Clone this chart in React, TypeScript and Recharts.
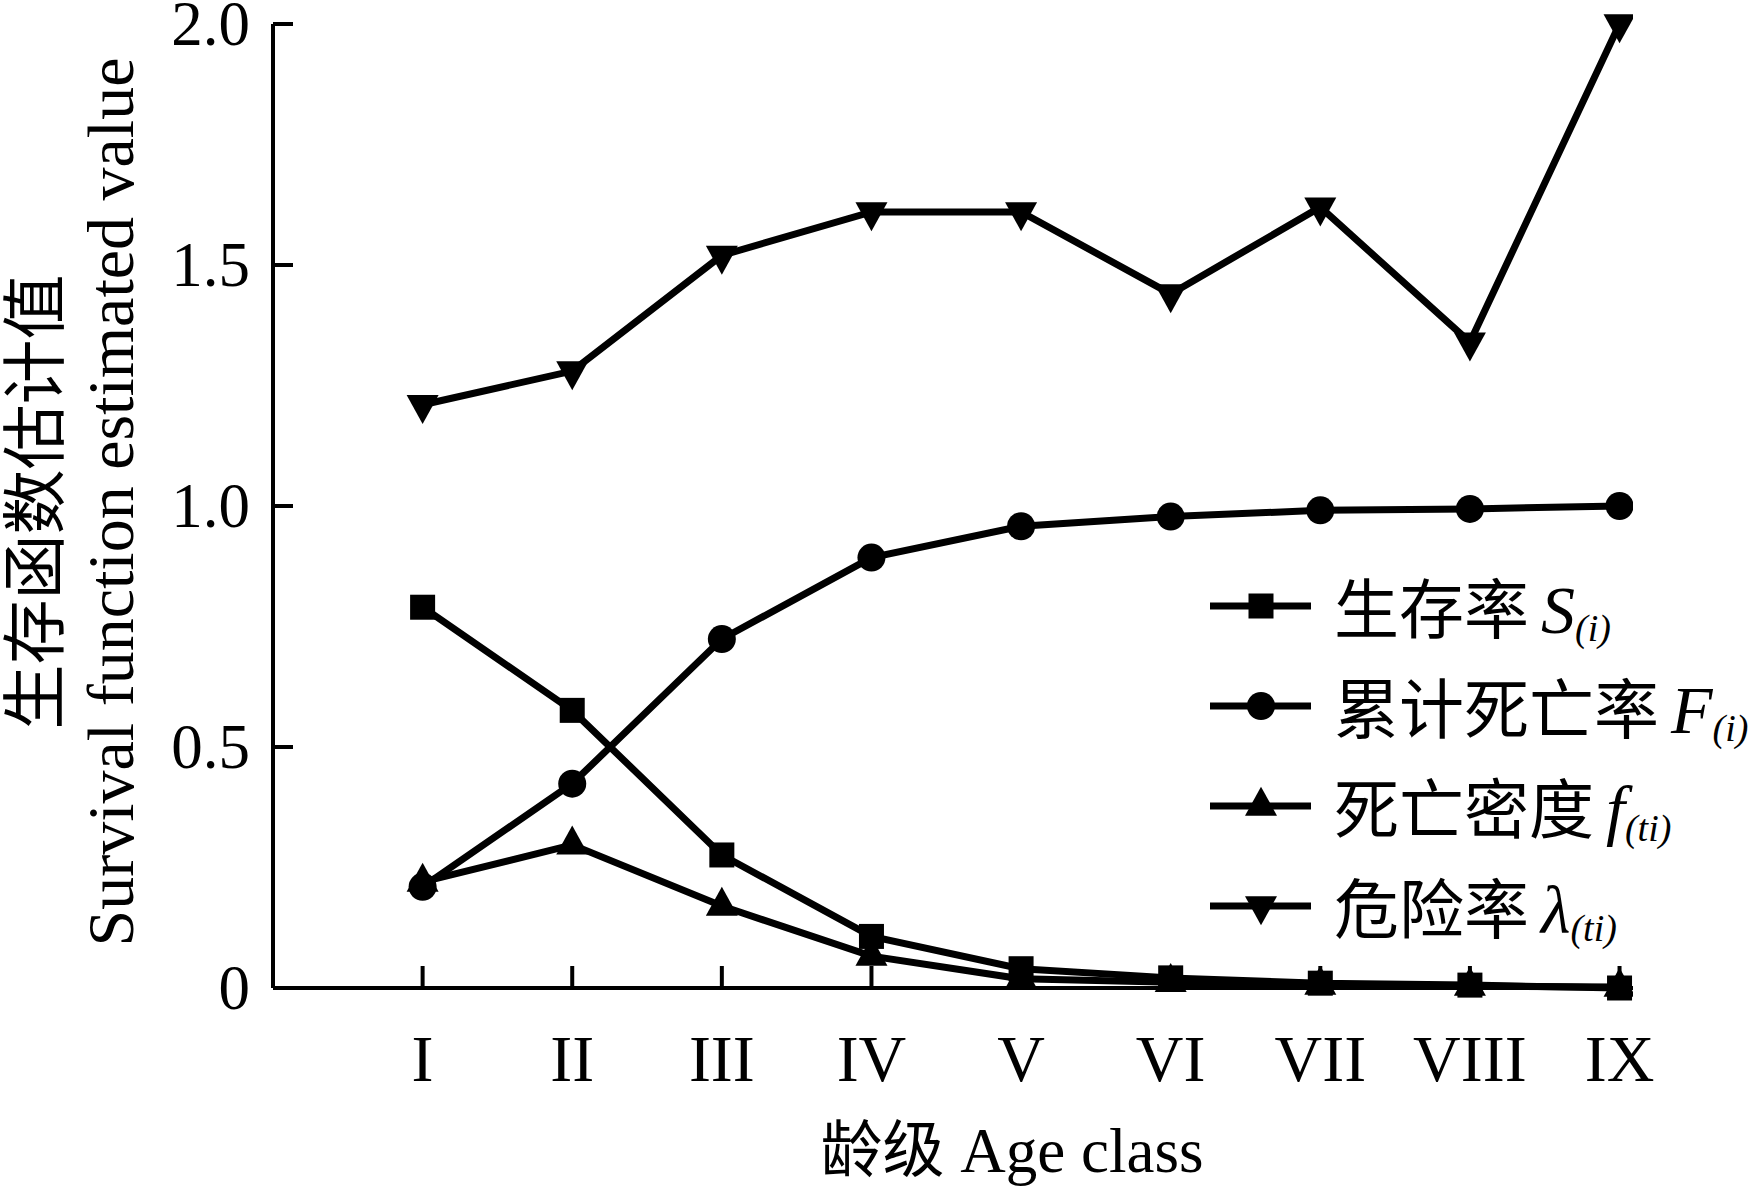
import React from "react";
import { LineChart, Line, XAxis, YAxis, Legend } from "recharts";

// age classes I..IX, plotted on a numeric axis so the first class sits one step from the y axis
const ageIndex = [1, 2, 3, 4, 5, 6, 7, 8, 9];
const ageClasses = ["I", "II", "III", "IV", "V", "VI", "VII", "VIII", "IX"];

// values
const survivalRate = [0.79, 0.576, 0.276, 0.107, 0.04, 0.021, 0.01, 0.006, 0.0];
const cumulativeMortality = [0.21, 0.424, 0.724, 0.893, 0.958, 0.978, 0.991, 0.994, 1.0];
const mortalityDensity = [0.22, 0.297, 0.17, 0.066, 0.019, 0.012, 0.006, 0.004, 0.002];
const hazardRate = [1.21, 1.28, 1.52, 1.61, 1.61, 1.44, 1.62, 1.34, 2.0];

const yTicks = [0, 0.5, 1, 1.5, 2];
const yTickLabels = ["0", "0.5", "1.0", "1.5", "2.0"];

const legendItems = [
  { key: "s", cn: "生存率", sym: "S", sub: "(i)", shape: "square" },
  { key: "F", cn: "累计死亡率", sym: "F", sub: "(i)", shape: "circle" },
  { key: "f", cn: "死亡密度", sym: "f", sub: "(ti)", shape: "up" },
  { key: "h", cn: "危险率", sym: "λ", sub: "(ti)", shape: "down" },
];

const SERIF = '"Liberation Serif", "Times New Roman", serif';
const CJK = '"Noto Sans CJK SC", "Noto Sans CJK JP", sans-serif';
const LINE_W = 7;

const data = ageIndex.map((x, i) => ({
  x,
  s: survivalRate[i],
  F: cumulativeMortality[i],
  f: mortalityDensity[i],
  h: hazardRate[i],
}));

function marker(shape: string, cx: number, cy: number, key?: any) {
  if (shape === "square") {
    return <rect key={key} x={cx - 12.5} y={cy - 12.5} width={25} height={25} fill="#000" />;
  }
  if (shape === "circle") {
    return <circle key={key} cx={cx} cy={cy} r={14} fill="#000" />;
  }
  const w = 32;
  const h = 29;
  if (shape === "up") {
    const pts = `${cx},${cy - (2 * h) / 3} ${cx - w / 2},${cy + h / 3} ${cx + w / 2},${cy + h / 3}`;
    return <polygon key={key} points={pts} fill="#000" />;
  }
  const pts = `${cx},${cy + (2 * h) / 3} ${cx - w / 2},${cy - h / 3} ${cx + w / 2},${cy - h / 3}`;
  return <polygon key={key} points={pts} fill="#000" />;
}

const dotFor = (shape: string) => (props: any) => {
  const { cx, cy, index } = props;
  if (cx == null || cy == null) return <g key={`n-${shape}-${index}`} />;
  return marker(shape, cx, cy, `${shape}-${index}`);
};

const XTick = ({ x, y, payload }: any) => {
  const i = ageIndex.indexOf(payload.value);
  return (
    <text x={x} y={y + 93} textAnchor="middle" fontFamily={SERIF} fontSize={66} fill="#000">
      {ageClasses[i]}
    </text>
  );
};

const YTick = ({ x, y, payload }: any) => {
  const i = yTicks.indexOf(payload.value);
  return (
    <text x={x} y={y + 21} textAnchor="end" fontFamily={SERIF} fontSize={63} fill="#000">
      {yTickLabels[i]}
    </text>
  );
};

const XTitle = () => (
  <text x={1012} y={1172} textAnchor="middle" fill="#000">
    <tspan fontFamily={CJK} fontSize={62}>龄级</tspan>
    <tspan fontFamily={SERIF} fontSize={63}> Age class</tspan>
  </text>
);

const YTitle = () => (
  <g>
    <text transform="translate(58,502) rotate(-90)" textAnchor="middle" fontFamily={CJK} fontSize={65} fill="#000">
      生存函数估计值
    </text>
    <text transform="translate(133,502) rotate(-90)" textAnchor="middle" fontFamily={SERIF} fontSize={66} fill="#000">
      Survival function estimated value
    </text>
  </g>
);

const renderLegend = () => (
  <svg width={571} height={420} style={{ overflow: "visible" }}>
    {legendItems.map((item, i) => {
      const ly = 46 + 100 * i;
      return (
        <g key={item.key}>
          <line x1={20} x2={121} y1={ly} y2={ly} stroke="#000" strokeWidth={LINE_W} />
          {marker(item.shape, 71, ly)}
          <text x={144} y={ly + 27} fill="#000">
            <tspan fontFamily={CJK} fontSize={65}>{item.cn}</tspan>
            <tspan fontFamily={SERIF} fontStyle="italic" fontSize={68} dx={12}>{item.sym}</tspan>
            <tspan fontFamily={SERIF} fontStyle="italic" fontSize={38} dy={8}>{item.sub}</tspan>
          </text>
        </g>
      );
    })}
  </svg>
);

export default function App() {
  const axisStyle = { stroke: "#000", strokeWidth: 4 };
  return (
    <div style={{ width: 1761, height: 1190, background: "#fff" }}>
      <style>{"body{margin:0;background:#fff}"}</style>
      <LineChart width={1761} height={1190} data={data} margin={{ top: 24, right: 128, bottom: 102, left: 173 }}>
        <XAxis
          type="number"
          dataKey="x"
          domain={[0, 9.09]}
          ticks={ageIndex}
          interval={0}
          allowDataOverflow
          height={100}
          tickSize={-22}
          tickMargin={22}
          axisLine={axisStyle}
          tickLine={axisStyle}
          tick={<XTick />}
          label={<XTitle />}
        />
        <YAxis
          type="number"
          domain={[0, 2]}
          ticks={yTicks}
          interval={0}
          width={100}
          tickSize={-20}
          tickMargin={43}
          axisLine={axisStyle}
          tickLine={axisStyle}
          tick={<YTick />}
          label={<YTitle />}
        />
        <Legend
          layout="vertical"
          align="center"
          verticalAlign="middle"
          content={renderLegend}
          wrapperStyle={{ left: 1190, top: 560, width: 571, height: 420 }}
        />
        <Line dataKey="s" name="生存率" stroke="#000" strokeWidth={LINE_W} dot={dotFor("square")} activeDot={false} isAnimationActive={false} />
        <Line dataKey="F" name="累计死亡率" stroke="#000" strokeWidth={LINE_W} dot={dotFor("circle")} activeDot={false} isAnimationActive={false} />
        <Line dataKey="f" name="死亡密度" stroke="#000" strokeWidth={LINE_W} dot={dotFor("up")} activeDot={false} isAnimationActive={false} />
        <Line dataKey="h" name="危险率" stroke="#000" strokeWidth={LINE_W} dot={dotFor("down")} activeDot={false} isAnimationActive={false} />
      </LineChart>
    </div>
  );
}
